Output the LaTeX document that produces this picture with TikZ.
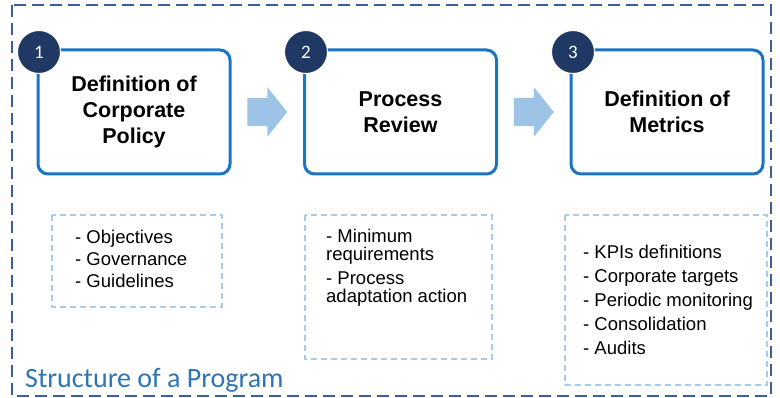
\documentclass[tikz,border=0pt]{standalone}
\usepackage{fontspec}
\setmainfont{Liberation Sans}
\newfontfamily\calibri{Carlito}
\usetikzlibrary{calc}
\definecolor{framecol}{HTML}{3B5CA0}
\definecolor{boxcol}{HTML}{1C75C4}
\definecolor{navy}{HTML}{1F3864}
\definecolor{flowcol}{HTML}{9DC3E6}
\definecolor{listcol}{HTML}{A7CBEA}
\definecolor{titlecol}{HTML}{2E75B6}

\begin{document}
\begin{tikzpicture}[x=1pt,y=-1pt,
    stage/.style={draw=boxcol,line width=3pt,rounded corners=10pt,fill=white,minimum width=192pt,minimum height=124pt,align=center,font=\bfseries\fontsize{21.5}{26}\selectfont},
    num/.style={circle,fill=navy,draw=white,line width=1pt,minimum size=43pt,inner sep=0pt,text=white,font=\calibri\fontsize{19}{19}\selectfont},
    listbox/.style={draw=listcol,line width=1.5pt,dash pattern=on 6pt off 4pt},
    items/.style={align=left,anchor=north west,inner sep=0pt},
    flow/.style={fill=flowcol}]
  \useasboundingbox (0,0) rectangle (780,398);
  % frame
  \draw[framecol,line width=2.5pt,dash pattern=on 12pt off 6pt] (12,5) rectangle (771,396);
  \node[anchor=base west,inner sep=0pt,text=titlecol,font=\calibri\fontsize{28}{28}\selectfont] (title) at (25,388) {Structure of a Program};

  % stages
  \node[stage] (s1) at (134,112) {Definition of\\Corporate\\Policy};
  \node[stage] (s2) at (400.5,112) {Process\\Review};
  \node[stage] (s3) at (667,112) {Definition of\\Metrics};
  \node[num] (n1) at (39,52) {1};
  \node[num] (n2) at (306,52) {2};
  \node[num] (n3) at (573,52) {3};
  \foreach \a/\b in {s1/s2,s2/s3}
    \fill[flow] ($(\a.east)!0.5!(\b.west)+(-20,-14)$) -- ++(20,0) -- ++(0,-11) -- ++(20,25) -- ++(-20,25) -- ++(0,-11) -- ++(-20,0) -- cycle;

  % lists
  \draw[listbox] (52,215) rectangle (222,307);
  \draw[listbox] (305,215) rectangle (492,359);
  \draw[listbox] (565,215) rectangle (767,385);
  \node[items,font=\fontsize{18.5}{22}\selectfont] (l1) at (75,229.5) {- Objectives\\- Governance\\- Guidelines};
  \node[items,font=\fontsize{18.5}{18}\selectfont] (l2) at (326,228.5) {- Minimum\\requirements\\[6pt]- Process\\adaptation action};
  \node[items,font=\fontsize{18.5}{24}\selectfont] (l3) at (583,244.5) {- KPIs definitions\\- Corporate targets\\- Periodic monitoring\\- Consolidation\\- Audits};
\end{tikzpicture}
\end{document}
